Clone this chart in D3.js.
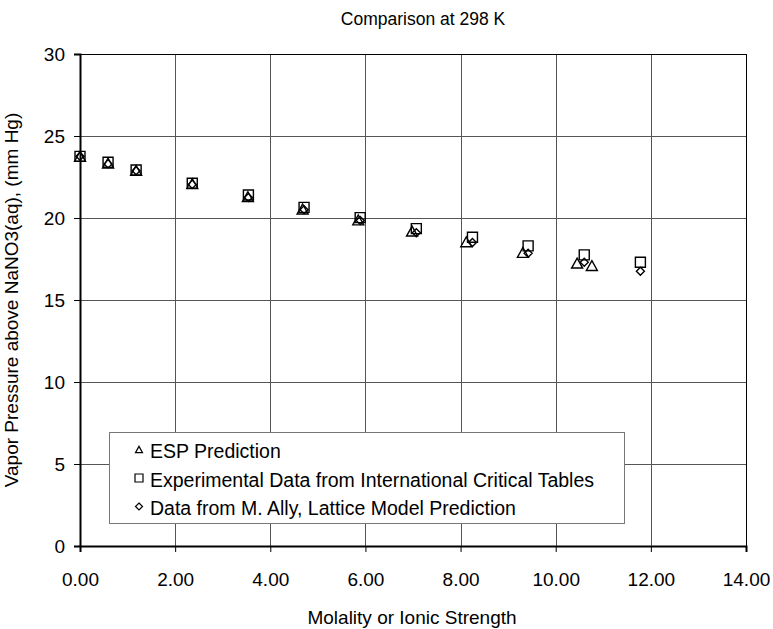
<!DOCTYPE html>
<html>
<head>
<meta charset="utf-8">
<script src="https://cdn.jsdelivr.net/npm/d3@7"></script>
<style>
  body { margin: 0; background: #fff; }
  svg text { font-family: "Liberation Sans", Arial, sans-serif; fill: #000; }
</style>
</head>
<body>
<svg width="773" height="629"></svg>
<script>
// ESP prediction (triangles)
var espX = [0, 0.59, 1.18, 2.36, 3.53, 4.68, 5.85, 6.98, 8.12, 9.31, 10.45, 10.76];
var espY = [23.76, 23.35, 22.9, 22.1, 21.3, 20.55, 19.88, 19.2, 18.55, 17.9, 17.25, 17.1];
// experimental data (squares)
var expX = [0, 0.59, 1.18, 2.36, 3.54, 4.71, 5.89, 7.07, 8.25, 9.42, 10.6, 11.78];
var expY = [23.76, 23.4, 22.93, 22.12, 21.4, 20.65, 20.02, 19.35, 18.83, 18.3, 17.75, 17.3];
// M. Ally lattice model (diamonds)
var allyX = [0, 0.59, 1.18, 2.36, 3.54, 4.71, 5.89, 7.07, 8.25, 9.42, 10.6, 11.78];
var allyY = [23.76, 23.3, 22.88, 22.05, 21.25, 20.5, 19.85, 19.1, 18.5, 17.85, 17.3, 16.75];

var xTicks = [0, 2, 4, 6, 8, 10, 12, 14];
var yTicks = [0, 5, 10, 15, 20, 25, 30];
var legendLabels = ["ESP Prediction",
  "Experimental Data from International Critical Tables",
  "Data from M. Ally, Lattice Model Prediction"];

var svg = d3.select("svg");
var pLeft = 80, pRight = 746, pTop = 54, pBottom = 546;
var fs = "19px";

var x = d3.scaleLinear().domain([0, 14]).range([pLeft, pRight]);
var y = d3.scaleLinear().domain([0, 30]).range([pBottom, pTop]);

// grid
svg.append("g").selectAll("line")
    .data(yTicks.filter(function (d) {return d > 0 && d < 30;}))
    .enter().append("line")
    .attr("x1", pLeft).attr("x2", pRight)
    .attr("y1", function (d) {return y(d) + 0.5;}).attr("y2", function (d) {return y(d) + 0.5;})
    .attr("stroke", "#555").attr("stroke-width", 1);
svg.append("g").selectAll("line")
    .data(xTicks.filter(function (d) {return d > 0 && d < 14;}))
    .enter().append("line")
    .attr("y1", pTop).attr("y2", pBottom)
    .attr("x1", function (d) {return Math.round(x(d)) + 0.5;}).attr("x2", function (d) {return Math.round(x(d)) + 0.5;})
    .attr("stroke", "#555").attr("stroke-width", 1);

// frame
svg.append("line").attr("x1", pLeft).attr("x2", pRight).attr("y1", pTop + 0.5).attr("y2", pTop + 0.5)
    .attr("stroke", "#000").attr("stroke-width", 1);
svg.append("line").attr("x1", pRight + 0.5).attr("x2", pRight + 0.5).attr("y1", pTop).attr("y2", pBottom)
    .attr("stroke", "#000").attr("stroke-width", 1);

// axes
var xAxis = svg.append("g")
    .attr("transform", "translate(0," + pBottom + ")")
    .call(d3.axisBottom(x).tickValues(xTicks).tickSize(6).tickPadding(21)
        .tickFormat(d3.format(".2f")));
var yAxis = svg.append("g")
    .attr("transform", "translate(" + pLeft + ",0)")
    .call(d3.axisLeft(y).tickValues(yTicks).tickSize(6).tickPadding(9));
[xAxis, yAxis].forEach(function (a) {
    a.select(".domain").attr("stroke", "#000").attr("stroke-width", 2);
    a.selectAll(".tick line").attr("stroke", "#000");
    a.selectAll("text").style("font-size", fs).attr("fill", "#000")
        .style("font-family", "Liberation Sans, Arial, sans-serif");
});

// markers
function tri(s) {
    var h = s * 0.9;
    return "M0," + (-h / 2) + "L" + (s / 2) + "," + (h / 2) + "L" + (-s / 2) + "," + (h / 2) + "Z";
}
function sq(s) {
    return "M" + (-s / 2) + "," + (-s / 2) + "h" + s + "v" + s + "h" + (-s) + "Z";
}
function dia(s) {
    return "M0," + (-s / 2) + "L" + (s / 2) + ",0L0," + (s / 2) + "L" + (-s / 2) + ",0Z";
}

var series = [
    {xs: espX, ys: espY, shape: tri, size: 11},
    {xs: expX, ys: expY, shape: sq, size: 10},
    {xs: allyX, ys: allyY, shape: dia, size: 8}
];

series.forEach(function (s) {
    svg.append("g").selectAll("path")
        .data(s.xs.map(function (v, i) {return [v, s.ys[i]];}))
        .enter().append("path")
        .attr("d", s.shape(s.size))
        .attr("transform", function (d) {return "translate(" + x(d[0]) + "," + y(d[1]) + ")";})
        .attr("fill", "none")
        .attr("stroke", "#000")
        .attr("stroke-width", 1.4);
});

// legend
var lg = svg.append("g");
lg.append("rect")
    .attr("x", 109.5).attr("y", 432.5).attr("width", 515).attr("height", 91)
    .attr("fill", "#fff").attr("stroke", "#777").attr("stroke-width", 1);
var legendSizes = [7, 8, 7];
legendLabels.forEach(function (t, i) {
    var base = 458 + i * 28.5;
    lg.append("path")
        .attr("d", series[i].shape(legendSizes[i]))
        .attr("transform", "translate(" + 139 + "," + (base - 8.5) + ")")
        .attr("fill", "none").attr("stroke", "#000").attr("stroke-width", 1.2);
    lg.append("text")
        .attr("x", 150).attr("y", base)
        .style("font-size", "19.5px")
        .text(t);
});

// titles
var title = svg.append("text")
    .attr("x", 423).attr("y", 25)
    .attr("text-anchor", "middle")
    .style("font-family", "'Liberation Sans Narrow', 'Liberation Sans', Arial, sans-serif")
    .style("font-size", "21px")
    .text("Comparison at 298 K");
if (title.node().getComputedTextLength() > 172) title.style("font-size", "17.5px");

svg.append("text")
    .attr("x", 412).attr("y", 624)
    .attr("text-anchor", "middle")
    .style("font-size", fs)
    .text("Molality or Ionic Strength");

svg.append("text")
    .attr("transform", "translate(18," + 300 + ") rotate(-90)")
    .attr("text-anchor", "middle")
    .style("font-size", fs)
    .text("Vapor Pressure above NaNO3(aq), (mm Hg)");
</script>
</body>
</html>
